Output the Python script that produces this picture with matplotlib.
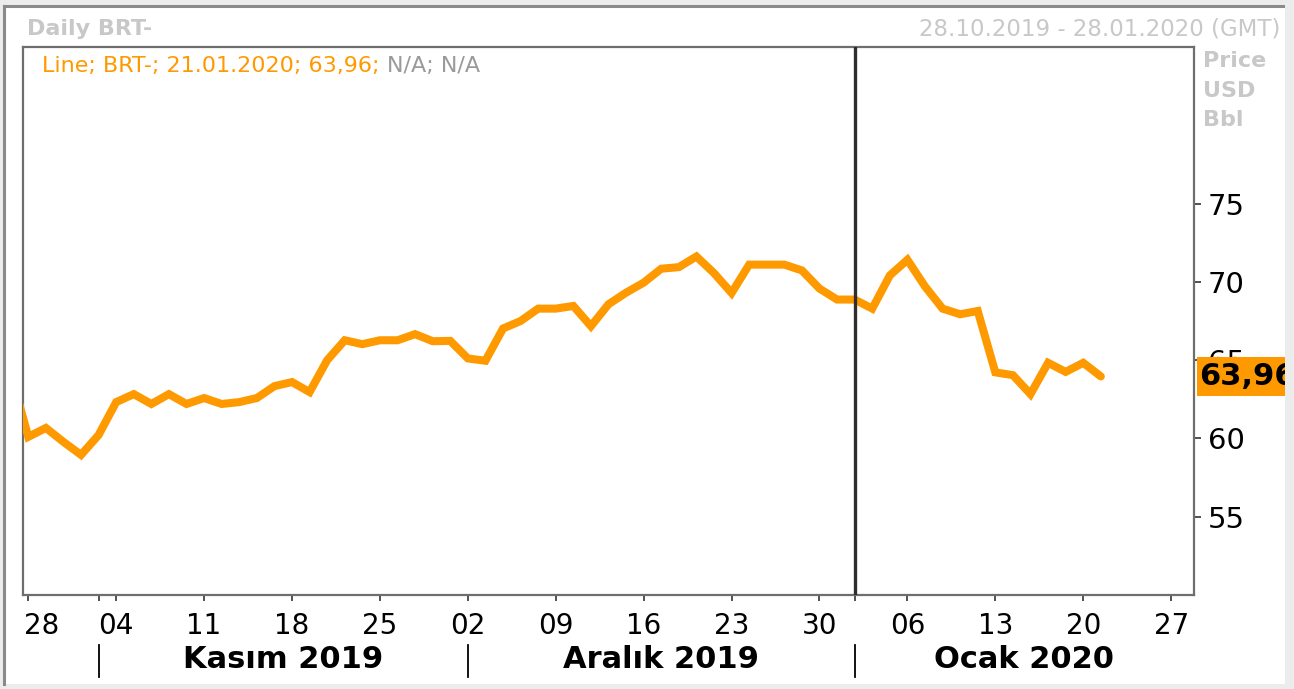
import numpy as np
import matplotlib
matplotlib.use("Agg")
import matplotlib.pyplot as plt
import matplotlib.transforms as mtransforms
from matplotlib.patches import Rectangle

# daily BRT- closes (business days)
dates = [
    "2019-10-25", "2019-10-28", "2019-10-29", "2019-10-30", "2019-10-31", "2019-11-01",
    "2019-11-04", "2019-11-05", "2019-11-06", "2019-11-07", "2019-11-08",
    "2019-11-11", "2019-11-12", "2019-11-13", "2019-11-14", "2019-11-15",
    "2019-11-18", "2019-11-19", "2019-11-20", "2019-11-21", "2019-11-22",
    "2019-11-25", "2019-11-26", "2019-11-27", "2019-11-28", "2019-11-29",
    "2019-12-02", "2019-12-03", "2019-12-04", "2019-12-05", "2019-12-06",
    "2019-12-09", "2019-12-10", "2019-12-11", "2019-12-12", "2019-12-13",
    "2019-12-16", "2019-12-17", "2019-12-18", "2019-12-19", "2019-12-20",
    "2019-12-23", "2019-12-24", "2019-12-25", "2019-12-26", "2019-12-27",
    "2019-12-30", "2019-12-31", "2020-01-01", "2020-01-02", "2020-01-03",
    "2020-01-06", "2020-01-07", "2020-01-08", "2020-01-09", "2020-01-10",
    "2020-01-13", "2020-01-14", "2020-01-15", "2020-01-16", "2020-01-17",
    "2020-01-20", "2020-01-21",
]
prices = [
    64.2, 60.10, 60.67, 59.78, 58.95, 60.22,
    62.32, 62.83, 62.20, 62.83, 62.20,
    62.58, 62.20, 62.32, 62.58, 63.34,
    63.60, 62.96, 65.00, 66.27, 66.02,
    66.27, 66.27, 66.66, 66.21, 66.23,
    65.11, 64.96, 67.02, 67.50, 68.29,
    68.29, 68.46, 67.17, 68.57, 69.31,
    69.95, 70.84, 70.94, 71.62, 70.56,
    69.29, 71.10, 71.10, 71.10, 70.73,
    69.57, 68.87, 68.87, 68.29, 70.41,
    71.41, 69.71, 68.29, 67.93, 68.14,
    64.22, 64.04, 62.83, 64.83, 64.25,
    64.83, 63.96,
]

tick_dates = ["2019-10-28", "2019-11-04", "2019-11-11", "2019-11-18", "2019-11-25",
              "2019-12-02", "2019-12-09", "2019-12-16", "2019-12-23", "2019-12-30",
              "2020-01-06", "2020-01-13", "2020-01-20", "2020-01-27"]
tick_labels = ["28", "04", "11", "18", "25", "02", "09", "16", "23", "30",
               "06", "13", "20", "27"]
month_starts = ["2019-11-01", "2019-12-02", "2020-01-01"]
month_labels = ["Kasım 2019", "Aralık 2019", "Ocak 2020"]
y_ticks = [55, 60, 65, 70, 75]

last_label = "63,96"
legend_main = "Line; BRT-; 21.01.2020; 63,96; "
legend_na = "N/A; N/A"

ORANGE = "#ff9900"
GRAY_TXT = "#c8c8c8"

origin = np.datetime64("2019-10-28")


def bday_pos(d):
    d = np.datetime64(d)
    if d >= origin:
        return float(np.busday_count(origin, d))
    return -float(np.busday_count(d, origin))


x = np.array([bday_pos(d) for d in dates])
tx = [bday_pos(d) for d in tick_dates]
mx = [bday_pos(d) for d in month_starts]

W, H = 1294, 689
fig = plt.figure(figsize=(W / 100, H / 100), dpi=100, facecolor="#ececec")

# outer panel
fig.add_artist(Rectangle((4 / W, 1 - 684 / H), 1281 / W, 678 / H, transform=fig.transFigure,
                         facecolor="white", edgecolor="none", zorder=-5))
fig.add_artist(plt.Line2D([4 / W, 4 / W], [1 - 684 / H, 1 - 6 / H], transform=fig.transFigure,
                          color="#8a8a8a", lw=2.2, zorder=-4))
fig.add_artist(plt.Line2D([4 / W, 1285 / W], [1 - 6 / H, 1 - 6 / H], transform=fig.transFigure,
                          color="#8a8a8a", lw=2.2, zorder=-4))

ax_l, ax_r, ax_t, ax_b = 23, 1194, 47, 595
ax = fig.add_axes([ax_l / W, 1 - ax_b / H, (ax_r - ax_l) / W, (ax_b - ax_t) / H])
ax.set_facecolor("white")

ax.plot(x, prices, color=ORANGE, lw=5.8, solid_joinstyle="miter", solid_capstyle="round",
        zorder=3)
ax.axvline(mx[2], color="#2e2e2e", lw=2.4, zorder=4)

ax.set_xlim(-0.3, 66.3)
ax.set_ylim(50, 85)

for s in ax.spines.values():
    s.set_color("#6e6e6e")
    s.set_linewidth(1.6)

ax.yaxis.tick_right()
ax.set_yticks(y_ticks)
ax.set_yticklabels([str(v) for v in y_ticks])
ax.tick_params(axis="y", length=5, width=1.2, color="#333333", pad=5, labelsize=21,
               labelcolor="black")

ax.set_xticks(tx)
ax.set_xticklabels(tick_labels)
ax.set_xticks([mx[0], mx[2]], minor=True)
ax.tick_params(axis="x", which="both", length=4, width=1.2, color="#333333", pad=8,
               labelsize=20, labelcolor="black")
first = ax.get_xticklabels()[0]
first.set_horizontalalignment("left")
first.set_transform(first.get_transform() +
                    mtransforms.ScaledTranslation(-0.04, 0, fig.dpi_scale_trans))

# month row
trans = mtransforms.blended_transform_factory(ax.transData, fig.transFigure)
for m in mx:
    fig.add_artist(plt.Line2D([m, m], [1 - 677 / H, 1 - 645 / H], transform=trans,
                              color="black", lw=1.3))
bounds = mx + [ax.get_xlim()[1]]
for i, lab in enumerate(month_labels):
    fig.text((bounds[i] + bounds[i + 1]) / 2, 1 - 660 / H, lab, transform=trans,
             ha="center", va="center", fontsize=22, fontweight="bold", color="black")

# header texts
fig.text(27 / W, 1 - 29 / H, "Daily BRT-", ha="left", va="center", fontsize=16,
         fontweight="bold", color=GRAY_TXT)
fig.text(1280 / W, 1 - 29 / H, "28.10.2019 - 28.01.2020 (GMT)", ha="right", va="center",
         fontsize=16.5, color=GRAY_TXT)
for lab, yy in zip(["Price", "USD", "Bbl"], [61, 91, 120]):
    fig.text(1203 / W, 1 - yy / H, lab, ha="left", va="center", fontsize=16,
             fontweight="bold", color=GRAY_TXT)

t1 = ax.text(42 / W, 1 - 66 / H, legend_main, transform=fig.transFigure, ha="left",
             va="center", fontsize=16, color=ORANGE)
fig.canvas.draw()
bb = t1.get_window_extent()
fig.text(bb.x1 / W, 1 - 66 / H, legend_na, ha="left", va="center", fontsize=16,
         color="#9a9a9a")

# last value tag on the price scale
yl = ax.transData.transform((0, prices[-1]))[1]
fig.add_artist(Rectangle((1197 / W, (yl - 20) / H), 100 / W, 39 / H, transform=fig.transFigure,
                         facecolor=ORANGE, edgecolor="none", zorder=5))
fig.text(1199 / W, yl / H, last_label, ha="left", va="center", fontsize=22,
         fontweight="bold", color="black", zorder=6)
# cover overflow at right edge
fig.add_artist(Rectangle((1285 / W, 0), 9 / W, 1, transform=fig.transFigure,
                         facecolor="#ececec", edgecolor="none", zorder=10))

fig.savefig("out.png", dpi=100, facecolor=fig.get_facecolor())
